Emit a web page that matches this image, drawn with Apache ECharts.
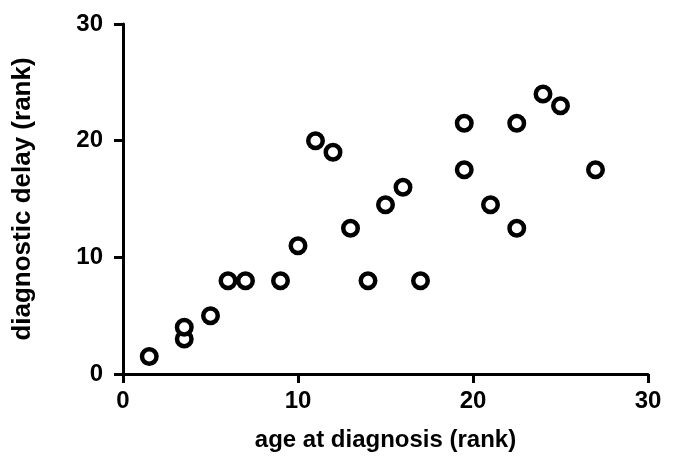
<!DOCTYPE html>
<html>
<head>
<meta charset="utf-8">
<script src="https://cdn.jsdelivr.net/npm/echarts@6/dist/echarts.min.js"></script>
<style>html,body{margin:0;padding:0;background:#fff;}#c{width:673px;height:464px;}</style>
</head>
<body>
<div id="c"></div>
<script>
var ageRank = [1.5, 3.5, 3.5, 5, 6, 7, 9, 10, 11, 12, 13, 14, 15, 16, 17, 19.5, 19.5, 21, 22.5, 22.5, 24, 25, 27];
var delayRank = [1.5, 3, 4, 5, 8, 8, 8, 11, 20, 19, 12.5, 8, 14.5, 16, 8, 21.5, 17.5, 14.5, 21.5, 12.5, 24, 23, 17.5];
var xTicks = [0, 10, 20, 30];
var yTicks = [0, 10, 20, 30];

var points = ageRank.map(function (a, i) { return [a, delayRank[i]]; });
var font = '"Liberation Sans", Arial, Helvetica, sans-serif';
var chart = echarts.init(document.getElementById('c'));
chart.setOption({
  animation: false,
  backgroundColor: '#fff',
  grid: { left: 123, right: 25, top: 24, bottom: 90 },
  xAxis: {
    type: 'value', min: xTicks[0], max: xTicks[xTicks.length - 1], interval: 10,
    name: 'age at diagnosis (rank)', nameLocation: 'middle', nameGap: 54,
    nameTextStyle: { fontFamily: font, fontWeight: 'bold', fontSize: 24, color: '#000' },
    axisLine: { lineStyle: { color: '#000', width: 3 } },
    axisTick: { show: true, length: 9, lineStyle: { color: '#000', width: 3 } },
    axisLabel: { margin: 15, fontFamily: font, fontWeight: 'bold', fontSize: 24, color: '#000' },
    splitLine: { show: false }
  },
  yAxis: {
    type: 'value', min: yTicks[0], max: yTicks[yTicks.length - 1], interval: 10,
    name: 'diagnostic delay (rank)', nameLocation: 'middle', nameGap: 87,
    nameTextStyle: { fontFamily: font, fontWeight: 'bold', fontSize: 26, color: '#000' },
    axisLine: { show: true, lineStyle: { color: '#000', width: 3 } },
    axisTick: { show: true, length: 9, lineStyle: { color: '#000', width: 3 } },
    axisLabel: { margin: 20, fontFamily: font, fontWeight: 'bold', fontSize: 24, color: '#000' },
    splitLine: { show: false }
  },
  series: [{
    type: 'scatter',
    data: points,
    symbol: 'circle',
    symbolSize: 14.5,
    itemStyle: { color: '#fff', borderColor: '#000', borderWidth: 4.5, opacity: 1 }
  }]
});
</script>
</body>
</html>
